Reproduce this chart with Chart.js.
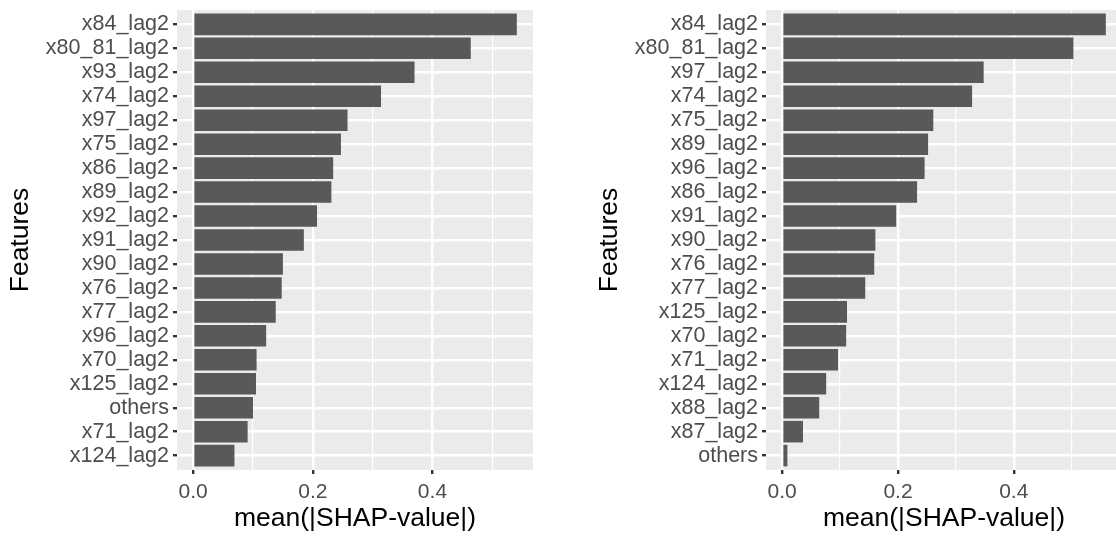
<!DOCTYPE html>
<html>
<head>
<meta charset="utf-8">
<script src="https://cdn.jsdelivr.net/npm/chart.js@4"></script>
<style>
  html, body { margin: 0; padding: 0; background: #fff; overflow: hidden; }
  .wrap { position: absolute; top: 0; width: 558px; height: 537px; }
</style>
</head>
<body>
<div class="wrap" style="left:0px"><canvas id="leftChart"></canvas></div>
<div class="wrap" style="left:589px"><canvas id="rightChart"></canvas></div>
<script>
// левая панель
const leftLabels = ['x84_lag2', 'x80_81_lag2', 'x93_lag2', 'x74_lag2', 'x97_lag2', 'x75_lag2', 'x86_lag2', 'x89_lag2', 'x92_lag2', 'x91_lag2',
    'x90_lag2', 'x76_lag2', 'x77_lag2', 'x96_lag2', 'x70_lag2', 'x125_lag2', 'others', 'x71_lag2', 'x124_lag2'];
const leftValues = [0.541, 0.464, 0.370, 0.314, 0.258, 0.247, 0.234, 0.231, 0.207, 0.185,
    0.150, 0.148, 0.138, 0.122, 0.106, 0.105, 0.100, 0.091, 0.069];

// правая панель
const rightLabels = ['x84_lag2', 'x80_81_lag2', 'x97_lag2', 'x74_lag2', 'x75_lag2', 'x89_lag2', 'x96_lag2', 'x86_lag2', 'x91_lag2', 'x90_lag2',
    'x76_lag2', 'x77_lag2', 'x125_lag2', 'x70_lag2', 'x71_lag2', 'x124_lag2', 'x88_lag2', 'x87_lag2', 'others'];
const rightValues = [0.559, 0.503, 0.348, 0.328, 0.261, 0.252, 0.246, 0.233, 0.197, 0.161,
    0.159, 0.1435, 0.112, 0.1105, 0.0965, 0.076, 0.064, 0.036, 0.009];

// деления оси x
const xTicks = [0, 1, 2, 3, 4, 5].map(i => i / 10);
const xTickLabels = ['0.0', '', '0.2', '', '0.4', ''];

const xTitle = 'mean(|SHAP-value|)';
const yTitle = 'Features';

const FONT = "'Liberation Sans', Arial, sans-serif";

// серый фон панели как в ggplot
const panelBg = {
    id: 'panelBg',
    beforeDraw(chart) {
        const a = chart.chartArea;
        const ctx = chart.ctx;
        ctx.save();
        ctx.fillStyle = '#EBEBEB';
        ctx.fillRect(a.left, a.top, a.right - a.left, a.bottom - a.top);
        ctx.restore();
    }
};

function isMajor(v) {
    return Math.round(v * 10) % 2 === 0;
}

function makeChart(id, labels, values) {
    const maxVal = Math.max(...values);
    return new Chart(document.getElementById(id), {
        type: 'bar',
        data: {
            datasets: [{
                data: values.map((v, i) => ({ x: v, y: i })),
                backgroundColor: '#595959',
                borderWidth: 0,
                barPercentage: 0.9,
                categoryPercentage: 1
            }]
        },
        options: {
            indexAxis: 'y',
            responsive: true,
            maintainAspectRatio: false,
            animation: false,
            layout: { padding: { top: 10, right: 25, left: 0, bottom: 0 } },
            scales: {
                x: {
                    type: 'linear',
                    min: -0.05 * maxVal,
                    max: 1.05 * maxVal,
                    afterBuildTicks: (scale) => {
                        scale.ticks = xTicks.map(v => ({ value: v }));
                    },
                    afterFit: (scale) => {
                        scale.height = 67;
                        scale.paddingLeft = 0;
                        scale.paddingRight = 0;
                    },
                    border: { display: false },
                    grid: {
                        color: '#FFFFFF',
                        lineWidth: (c) => isMajor(c.tick.value) ? 2.4 : 1.2,
                        tickColor: (c) => isMajor(c.tick.value) ? '#333333' : 'rgba(0,0,0,0)',
                        tickWidth: 2.4,
                        tickLength: 4
                    },
                    ticks: {
                        autoSkip: false,
                        maxRotation: 0,
                        padding: 6,
                        color: '#4D4D4D',
                        font: { family: FONT, size: 21 },
                        callback: (v, i) => xTickLabels[i]
                    },
                    title: {
                        display: true,
                        text: xTitle,
                        color: '#000000',
                        font: { family: FONT, size: 26.5, lineHeight: 1 },
                        padding: { top: 0, bottom: 5 }
                    }
                },
                y: {
                    type: 'linear',
                    reverse: true,
                    offset: false,
                    min: -0.6,
                    max: labels.length - 0.4,
                    afterBuildTicks: (scale) => {
                        scale.ticks = labels.map((_, i) => ({ value: i }));
                    },
                    afterFit: (scale) => {
                        scale.width = 177;
                        scale.paddingTop = 0;
                        scale.paddingBottom = 0;
                    },
                    border: { display: false },
                    grid: {
                        offset: false,
                        color: '#FFFFFF',
                        lineWidth: 2.4,
                        tickColor: '#333333',
                        tickWidth: 2.4,
                        tickLength: 4
                    },
                    ticks: {
                        autoSkip: false,
                        padding: 4,
                        color: '#4D4D4D',
                        font: { family: FONT, size: 21.5 },
                        callback: (v) => labels[v]
                    },
                    title: {
                        display: true,
                        text: yTitle,
                        color: '#000000',
                        font: { family: FONT, size: 26.5, lineHeight: 1 },
                        padding: { top: 7, bottom: 0 }
                    }
                }
            },
            plugins: {
                legend: { display: false },
                tooltip: { enabled: false }
            }
        },
        plugins: [panelBg]
    });
}

const leftChart = makeChart('leftChart', leftLabels, leftValues);
const rightChart = makeChart('rightChart', rightLabels, rightValues);
</script>
</body>
</html>
